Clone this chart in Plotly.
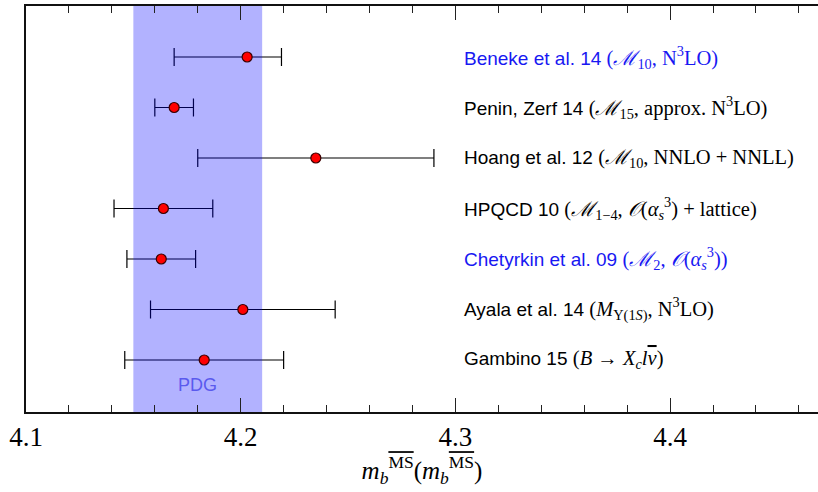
import plotly.graph_objects as go

# ---- data ----
labels = [
    "Beneke et al. 14",
    "Penin, Zerf 14",
    "Hoang et al. 12",
    "HPQCD 10",
    "Chetyrkin et al. 09",
    "Ayala et al. 14",
    "Gambino 15",
]
label_math = [
    "(<i>ℳ</i><sub>10</sub>, N<sup>3</sup>LO)",
    "(<i>ℳ</i><sub>15</sub>, approx. N<sup>3</sup>LO)",
    "(<i>ℳ</i><sub>10</sub>, NNLO + NNLL)",
    "(<i>ℳ</i><sub>1−4</sub>, <i>𝒪</i>(<i>α</i><sub><i>s</i></sub><sup>3</sup>) + lattice)",
    "(<i>ℳ</i><sub>2</sub>, <i>𝒪</i>(<i>α</i><sub><i>s</i></sub><sup>3</sup>))",
    "(<i>M</i><sub>Υ(1<i>S</i>)</sub>, N<sup>3</sup>LO)",
    "(<i>B</i> → <i>X</i><sub><i>c</i></sub><i>l</i><span style='text-decoration:overline'><i>ν</i></span>)",
]
highlight = [True, False, False, False, True, False, False]
mb_values = [4.203, 4.169, 4.235, 4.164, 4.163, 4.201, 4.183]
err_plus = [0.016, 0.009, 0.055, 0.023, 0.016, 0.043, 0.037]
err_minus = [0.034, 0.009, 0.055, 0.023, 0.016, 0.043, 0.037]
row_pos = [7, 6, 5, 4, 3, 2, 1]
pdg_value = 4.18
pdg_err = 0.03
x_ticks = [4.1, 4.2, 4.3, 4.4]
label_x = 4.303

BLUE = "#1818f2"
SERIF = "Liberation Serif"
SANS = "Liberation Sans"

fig = go.Figure()

# error bars (drawn below the PDG band)
fig.add_trace(go.Scatter(
    x=mb_values, y=row_pos, mode="markers",
    marker=dict(size=1, color="rgba(0,0,0,0)"),
    error_x=dict(type="data", symmetric=False, array=err_plus, arrayminus=err_minus,
                 color="black", thickness=1.2, width=9),
    hoverinfo="skip", showlegend=False,
))

# PDG band
lo, hi = pdg_value - pdg_err, pdg_value + pdg_err
fig.add_trace(go.Scatter(
    x=[lo, hi, hi, lo, lo], y=[-1, -1, 9, 9, -1],
    mode="lines", fill="toself", fillcolor="rgba(0,0,255,0.3)",
    line=dict(width=0), hoverinfo="skip", showlegend=False,
))

# central values
fig.add_trace(go.Scatter(
    x=mb_values, y=row_pos, mode="markers",
    marker=dict(size=10, color="#ff0000", line=dict(color="#3a0000", width=1.2)),
    hoverinfo="skip", showlegend=False,
))

for lab, math, hl, y in zip(labels, label_math, highlight, row_pos):
    col = BLUE if hl else "black"
    txt = f"{lab} <span style='font-family:{SERIF};font-size:20.5px'>{math}</span>"
    fig.add_annotation(x=label_x, y=y, xref="x", yref="y", text=txt,
                       showarrow=False, xanchor="left", yanchor="middle",
                       font=dict(family=SANS, size=19, color=col))

fig.add_annotation(x=pdg_value, y=0.5, xref="x", yref="y", text="PDG",
                   showarrow=False, xanchor="center", yanchor="middle",
                   font=dict(family=SANS, size=18, color="#5a5aee"))

ms = "<span style='text-decoration:overline'>MS</span>"
title = (f"<i>m</i><sub><i>b</i></sub><sup>{ms}</sup>(<i>m</i><sub><i>b</i></sub><sup>{ms}</sup>)")

fig.update_layout(
    width=818, height=492,
    margin=dict(l=26, r=0, t=6, b=80),
    paper_bgcolor="white", plot_bgcolor="white",
    xaxis=dict(
        range=[4.1, 4.4689], tickvals=x_ticks, ticktext=[f"{v:.1f}" for v in x_ticks],
        ticks="inside", ticklen=14, tickwidth=1.3, tickcolor="#222",
        showline=True, linecolor="#111", linewidth=1.5, mirror="ticks",
        showgrid=False, zeroline=False,
        minor=dict(dtick=0.02, tick0=4.1, ticks="inside", ticklen=7, tickwidth=1.3,
                   tickcolor="#222", showgrid=False),
        tickfont=dict(family=SERIF, size=27, color="black"),
        title=dict(text=title, font=dict(family=SERIF, size=25, color="black"), standoff=7),
    ),
    yaxis=dict(
        range=[-0.03, 8.01], showticklabels=False, ticks="",
        showline=True, linecolor="#111", linewidth=1.5,
        showgrid=False, zeroline=False,
    ),
)

fig.write_html("out.html")
